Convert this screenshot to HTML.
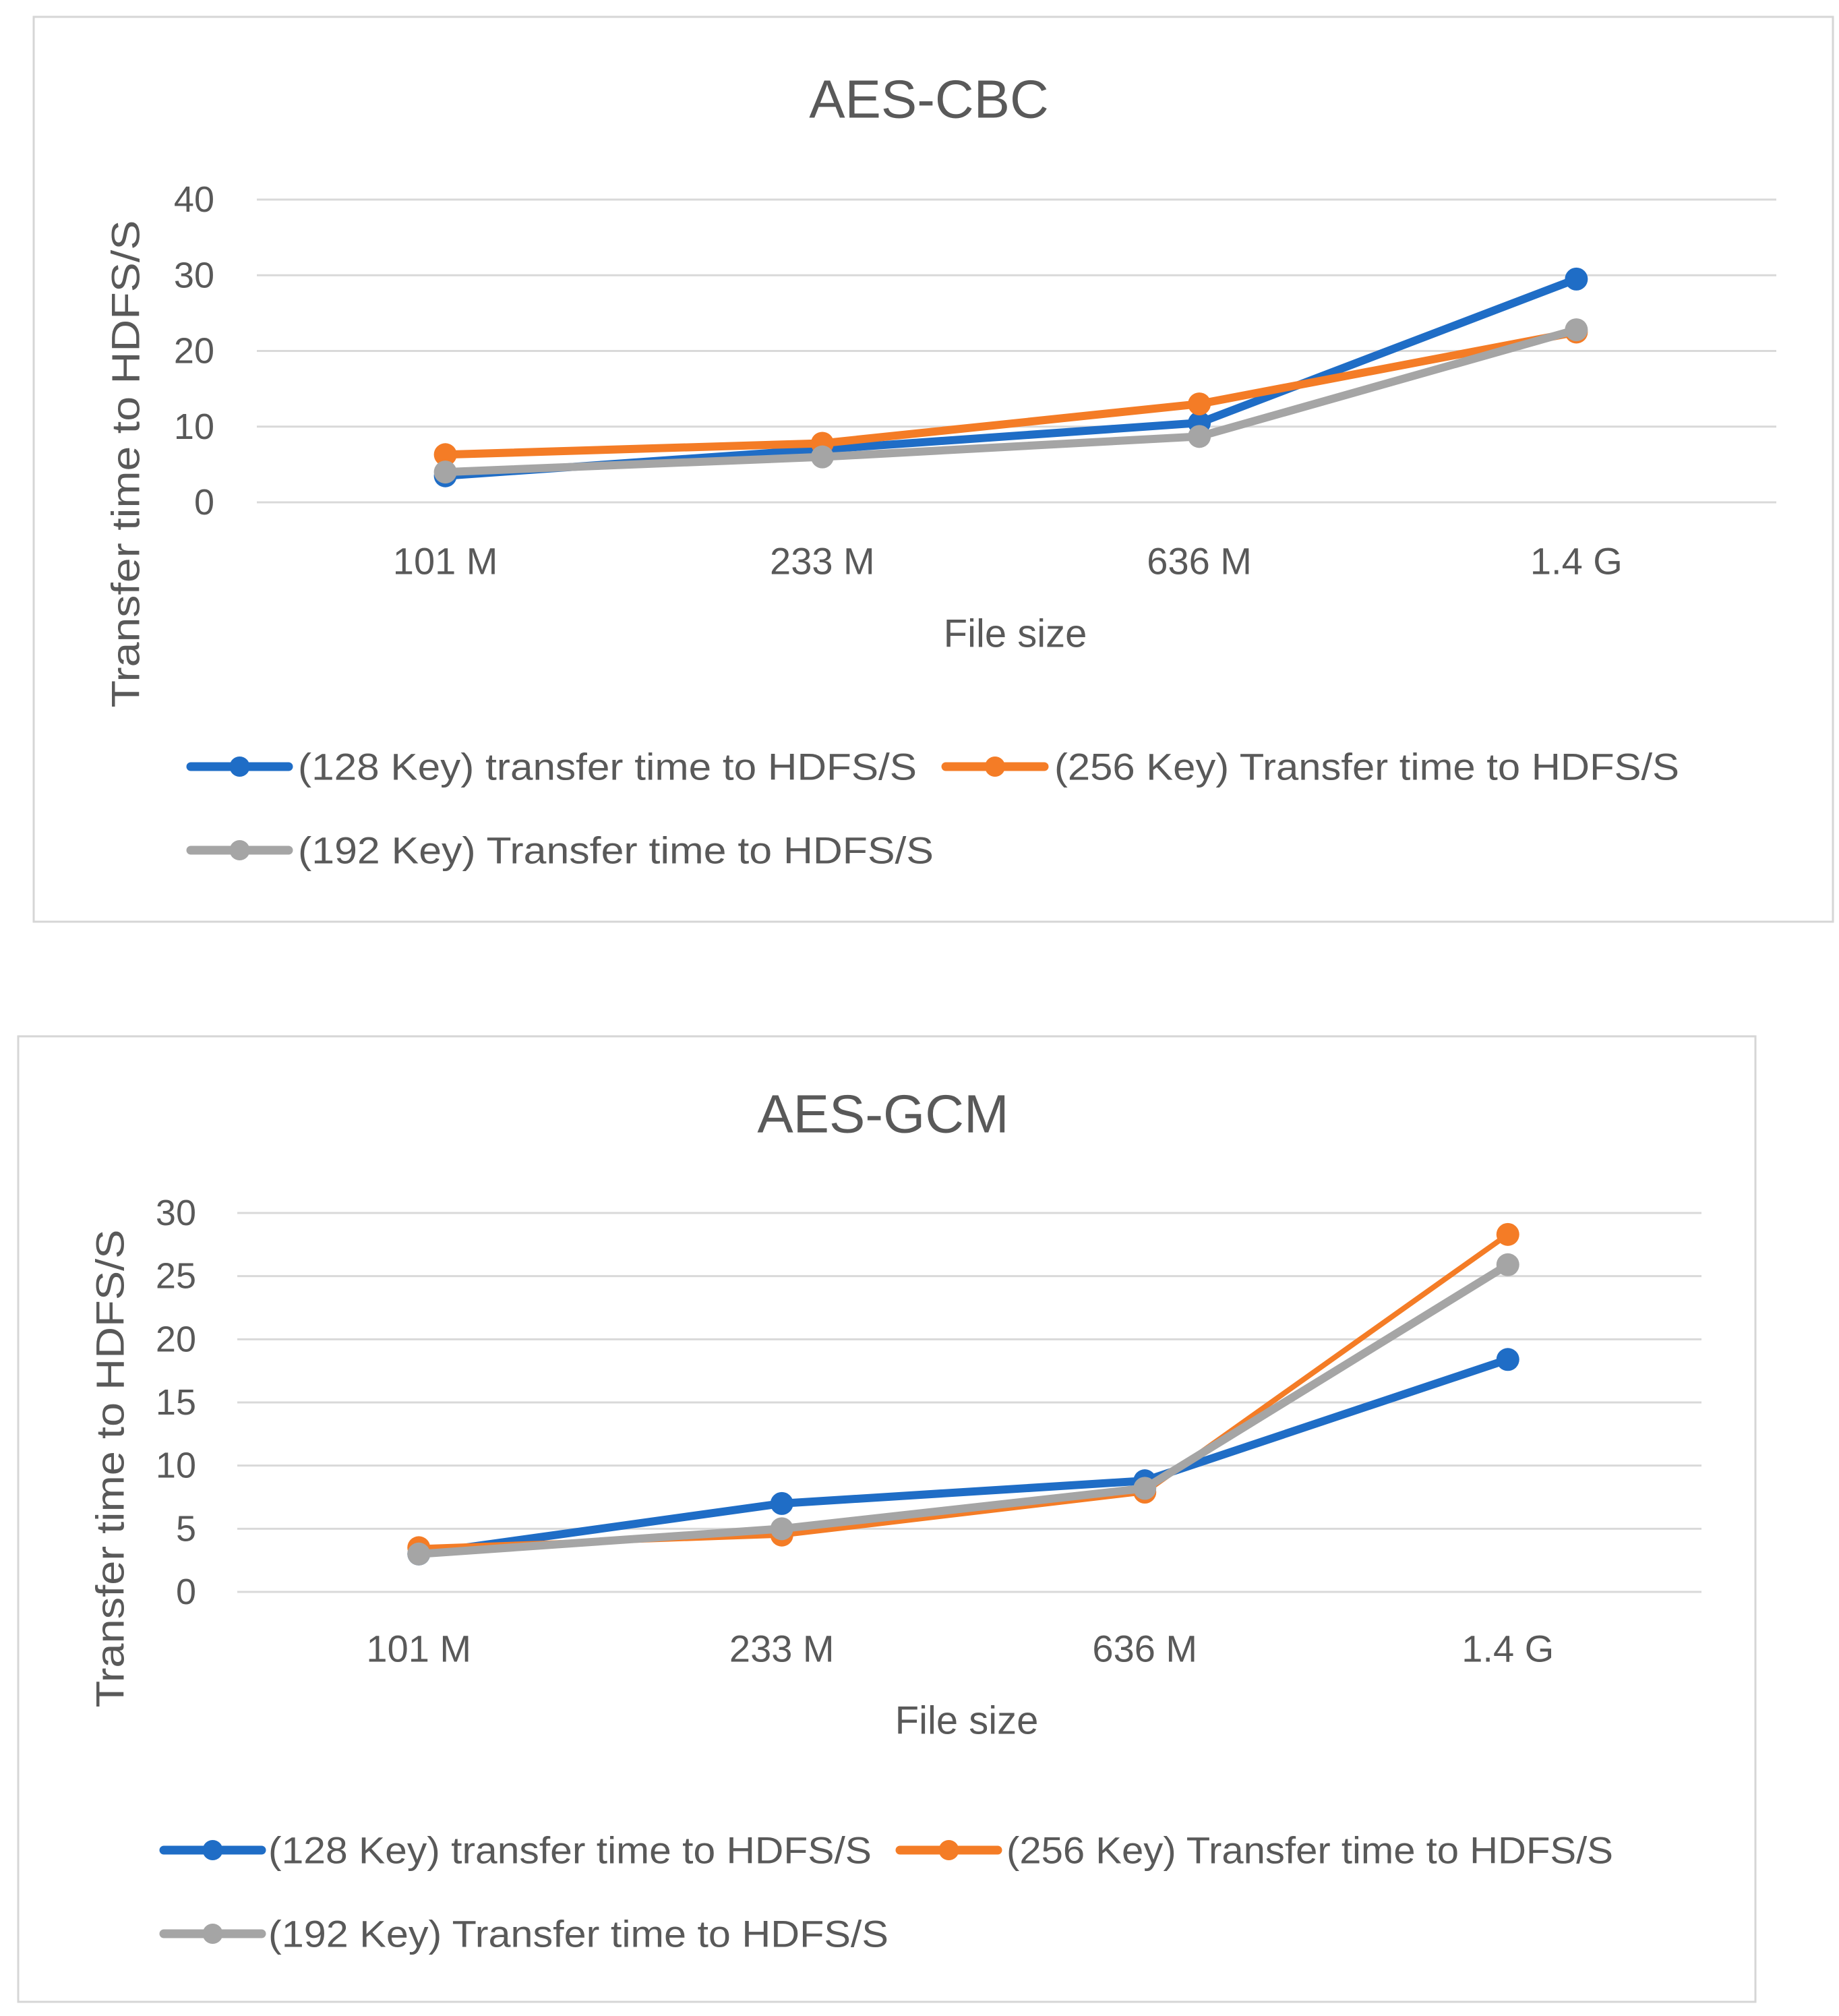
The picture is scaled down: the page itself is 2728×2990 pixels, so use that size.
<!DOCTYPE html>
<html><head><meta charset="utf-8">
<style>
html,body{margin:0;padding:0;background:#fff;}
svg{display:block;}
text{font-family:"Liberation Sans",sans-serif;fill:#595959;}
</style></head>
<body>
<svg id="root" width="2728" height="2990" viewBox="0 0 2728 2990" xmlns="http://www.w3.org/2000/svg"></svg>
<script>
const categories = ["101 M", "233 M", "636 M", "1.4 G"];
const seriesNames = ["(128 Key) transfer time to HDFS/S", "(256 Key) Transfer time to HDFS/S", "(192 Key)  Transfer time to HDFS/S"];
const cbc128 = [3.5, 7, 10.5, 29.5];
const cbc256 = [6.3, 7.8, 13, 22.5];
const cbc192 = [4, 6, 8.7, 22.8];
const gcm128 = [3, 7, 8.8, 18.4];
const gcm256 = [3.5, 4.5, 7.9, 28.3];
const gcm192 = [3, 5, 8.2, 25.9];
const cbcTicks = [0, 10, 20, 30, 40];
const gcmTicks = [0, 5, 10, 15, 20, 25, 30];

const NS = "http://www.w3.org/2000/svg";
const root = document.getElementById("root");
const colors = ["#1F6DC6", "#F47C26", "#A5A5A5"];

function mk(tag, attrs, parent) {
  const e = document.createElementNS(NS, tag);
  for (const k in attrs) e.setAttribute(k, attrs[k]);
  parent.appendChild(e);
  return e;
}

function drawChart(cfg) {
  const g = mk("g", {}, root);
  
  
  const frame = mk("rect", {x: cfg.box[0], y: cfg.box[1], width: cfg.box[2], height: cfg.box[3], fill: "#fff", stroke: "#D6D6D6", "stroke-width": 3}, g);
  
  
  const title = mk("text", {x: cfg.titleX, y: cfg.titleY, "text-anchor": "middle", "font-size": 80, "dominant-baseline": "central"}, g);
  title.textContent = cfg.title;
  
  
  const maxV = cfg.ticks[cfg.ticks.length - 1];
  const yS = v => cfg.y0 - (v / maxV) * (cfg.y0 - cfg.yTop);
  const band = (cfg.px1 - cfg.x0) / categories.length;
  const xS = i => cfg.x0 + band * (i + 0.5);
  cfg.ticks.forEach(t => {
    const ln = mk("line", {x1: cfg.x0, x2: cfg.x1, y1: yS(t), y2: yS(t), stroke: "#D9D9D9", "stroke-width": 3}, g);
    
    
    const tx = mk("text", {x: cfg.yLabelX, y: yS(t), "text-anchor": "end", "font-size": 54, "dominant-baseline": "central"}, g);
    tx.textContent = t;
    
    
  });
  categories.forEach((c, i) => {
    const tx = mk("text", {x: xS(i), y: cfg.xLabelY, "text-anchor": "middle", "font-size": 56, "dominant-baseline": "central"}, g);
    tx.textContent = c;
    
    
  });
  const xt = mk("text", {x: cfg.xTitleX, y: cfg.xTitleY, "text-anchor": "middle", "font-size": 58, "dominant-baseline": "central"}, g);
  xt.textContent = "File size";
  
  
  const yt = mk("text", {x: 0, y: 0, "text-anchor": "middle", "font-size": 58, "dominant-baseline": "central", textLength: cfg.yTitleLen, lengthAdjust: "spacingAndGlyphs", transform: `translate(${cfg.yTitleX},${cfg.yTitleY}) rotate(-90)`}, g);
  yt.textContent = "Transfer time to HDFS/S";
  
  
  cfg.series.forEach((vals, s) => {
    const pts = vals.map((v, i) => xS(i) + "," + yS(v)).join(" ");
    const pl = mk("polyline", {points: pts, fill: "none", stroke: colors[s], "stroke-width": cfg.widths[s], "stroke-linejoin": "round", "stroke-linecap": "round"}, g);
    
    
    vals.forEach((v, i) => {
      const c = mk("circle", {cx: xS(i), cy: yS(v), r: 17, fill: colors[s]}, g);
      
      
    });
  });
  cfg.legend.forEach((L, s) => {
    const lg = mk("g", {}, g);
    
    
    mk("line", {x1: L[0], x2: L[1], y1: L[3], y2: L[3], stroke: colors[s], "stroke-width": 13, "stroke-linecap": "round"}, lg);
    mk("circle", {cx: (L[0] + L[1]) / 2, cy: L[3], r: 15, fill: colors[s]}, lg);
    const t = mk("text", {x: L[2], y: L[3], "font-size": 56, "dominant-baseline": "central", textLength: L[4], lengthAdjust: "spacingAndGlyphs"}, lg);
    t.textContent = seriesNames[s];
  });
}

drawChart({
  name: "aes-cbc-chart", title: "AES-CBC", box: [50, 25, 2669, 1342],
  titleX: 1378, titleY: 147, x0: 381, x1: 2635, px1: 2618, y0: 745, yTop: 296,
  ticks: cbcTicks, yLabelX: 318, xLabelY: 832, xTitleX: 1506, xTitleY: 940,
  yTitleX: 187, yTitleY: 688, yTitleLen: 723,
  series: [cbc128, cbc256, cbc192], widths: [12, 12, 12],
  legend: [[283, 428, 442, 1137, 918], [1403, 1549, 1564, 1137, 927], [283, 428, 442, 1261, 943]]
});
drawChart({
  name: "aes-gcm-chart", title: "AES-GCM", box: [27, 1537, 2577, 1432],
  titleX: 1310, titleY: 1652, x0: 352, x1: 2524, px1: 2506, y0: 2361, yTop: 1799,
  ticks: gcmTicks, yLabelX: 291, xLabelY: 2445, xTitleX: 1434, xTitleY: 2552,
  yTitleX: 164, yTitleY: 2178, yTitleLen: 709,
  series: [gcm128, gcm256, gcm192], widths: [12, 8, 12],
  legend: [[243, 388, 398, 2744, 895], [1335, 1480, 1493, 2744, 900], [243, 388, 398, 2868, 920]]
});
</script>
</body></html>
